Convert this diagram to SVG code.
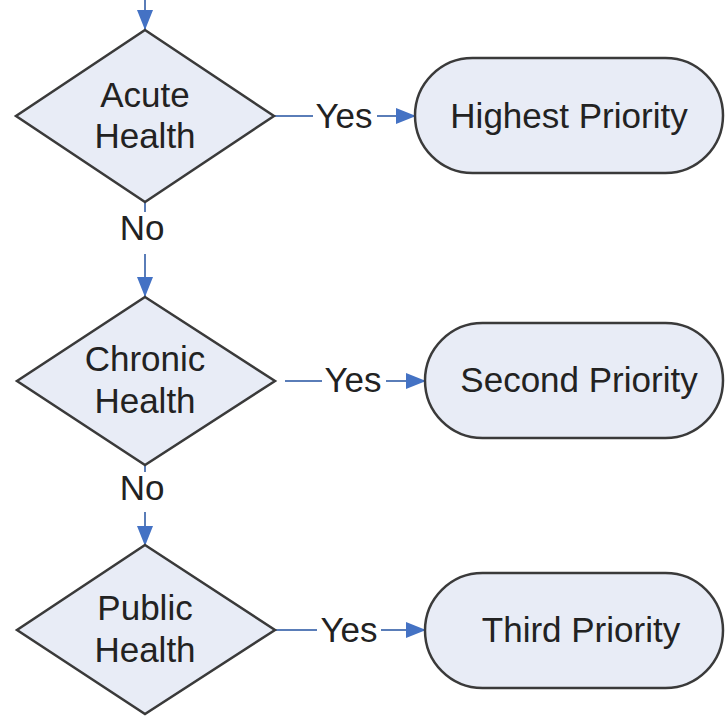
<svg xmlns="http://www.w3.org/2000/svg" width="725" height="716" viewBox="0 0 725 716">
  <defs>
    <marker id="arr" markerUnits="userSpaceOnUse" markerWidth="20" markerHeight="16" refX="19" refY="8" orient="auto">
      <path d="M0,0 L20,8 L0,16 Z" fill="#4472c4"/>
    </marker>
    <style>
      .dec { fill: #e8ecf6; stroke: #3a3a3a; stroke-width: 2.5; }
      .term { fill: #e8ecf6; stroke: #3a3a3a; stroke-width: 2.5; }
      .lbl { font-family: "Liberation Sans", Arial, sans-serif; font-size: 35px; fill: #222222; text-anchor: middle; }
      .edge { fill: none; stroke: #5a7db8; stroke-width: 2; }
    </style>
  </defs>
  <rect width="725" height="716" fill="#ffffff"/>

  <g id="connectors">
    <path class="edge" d="M145,0 L145,29" marker-end="url(#arr)"/>
    <!-- Acute -> Highest -->
    <path class="edge" d="M273,116 L313,116"/>
    <text class="lbl" x="344" y="128">Yes</text>
    <path class="edge" d="M377,116 L415,116" marker-end="url(#arr)"/>
    <!-- Acute -> Chronic -->
    <path class="edge" d="M145,202 L145,212"/>
    <text class="lbl" x="142" y="240">No</text>
    <path class="edge" d="M145,254 L145,296" marker-end="url(#arr)"/>
    <!-- Chronic -> Second -->
    <path class="edge" d="M285,381 L322,381"/>
    <text class="lbl" x="353" y="392">Yes</text>
    <path class="edge" d="M386,381 L425,381" marker-end="url(#arr)"/>
    <!-- Chronic -> Public -->
    <path class="edge" d="M145,465 L145,472"/>
    <text class="lbl" x="142" y="500">No</text>
    <path class="edge" d="M145,512 L145,545" marker-end="url(#arr)"/>
    <!-- Public -> Third -->
    <path class="edge" d="M275,630 L317,630"/>
    <text class="lbl" x="349" y="642">Yes</text>
    <path class="edge" d="M381,630 L425,630" marker-end="url(#arr)"/>
  </g>

  <g id="acute">
    <polygon class="dec" points="145,30 274,116 145,202 16,116"/>
    <text class="lbl" x="145" y="107">Acute</text>
    <text class="lbl" x="145" y="148">Health</text>
  </g>
  <g id="highest">
    <rect class="term" x="415" y="58" width="308" height="115" rx="57.5" ry="57.5"/>
    <text class="lbl" x="569" y="128">Highest Priority</text>
  </g>

  <g id="chronic">
    <polygon class="dec" points="145,297 275,381 145,465 17,381"/>
    <text class="lbl" x="145" y="371">Chronic</text>
    <text class="lbl" x="145" y="413">Health</text>
  </g>
  <g id="second">
    <rect class="term" x="425" y="323" width="298" height="115" rx="57.5" ry="57.5"/>
    <text class="lbl" x="579" y="392">Second Priority</text>
  </g>

  <g id="public">
    <polygon class="dec" points="145,545 275,630 145,714 17,630"/>
    <text class="lbl" x="145" y="620">Public</text>
    <text class="lbl" x="145" y="662">Health</text>
  </g>
  <g id="third">
    <rect class="term" x="425" y="573" width="298" height="115" rx="57.5" ry="57.5"/>
    <text class="lbl" x="581" y="642">Third Priority</text>
  </g>
</svg>
